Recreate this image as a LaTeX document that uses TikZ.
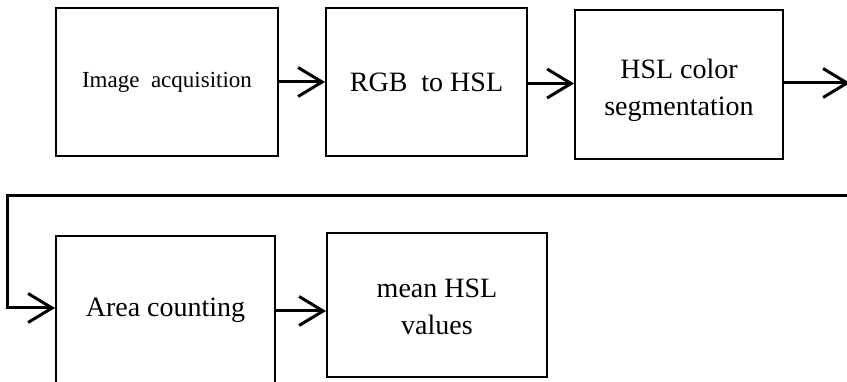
\documentclass[tikz,border=0pt]{standalone}
\usepackage{fontspec}
\setmainfont{Liberation Serif}
\usetikzlibrary{arrows.meta,calc}
\begin{document}
\begin{tikzpicture}[x=1pt,y=-1pt,
  box/.style={draw=black,line width=2pt,inner sep=0pt,align=center,font=\fontsize{28}{36}\selectfont},
  lbl/.style={inner sep=0pt,align=center,font=\fontsize{28}{37}\selectfont},
  arr/.style={line width=3pt,-{Straight Barb[length=24pt,width=29pt,line width=3pt]}},
  lnk/.style={line width=2.5pt}]
\useasboundingbox (0,0) rectangle (847,382);
\node[box,minimum width=222pt,minimum height=148pt,font=\fontsize{23}{26}\selectfont] (b1) at (167,82) {Image\ \ acquisition};
\node[box,minimum width=201pt,minimum height=148pt] (b2) at (426.5,82) {RGB\ \ to HSL};
\node[box,minimum width=208pt,minimum height=149pt] (b3) at (679,84.5) {};
\node[lbl] (t3) at (679,90) {HSL color\\segmentation};
\node[box,minimum width=219pt,minimum height=154pt] (b4) at (165.5,313) {};
\node[lbl] (t4) at (165.5,310) {Area counting};
\node[box,minimum width=220pt,minimum height=144pt] (b5) at (437,305) {};
\node[lbl] (t5) at (437,307) {mean HSL\\values};
\coordinate (r1) at (850,83);
\coordinate (r2) at (852,196);
\coordinate (l1) at (7,196);
\draw[arr] (b1.east) -- (b2.west);
\draw[arr] ([yshift=-1.5pt]b2.east) -- ([yshift=-1.5pt]b2.east -| b3.west);
\draw[arr] ([yshift=1.5pt]b3.east) -- (r1);
\draw[arr] (r2) -- (l1) |- ([yshift=5pt]b4.west);
\draw[arr] ([yshift=2pt]b4.east) -- ([yshift=2pt]b4.east -| b5.west);
\end{tikzpicture}
\end{document}
